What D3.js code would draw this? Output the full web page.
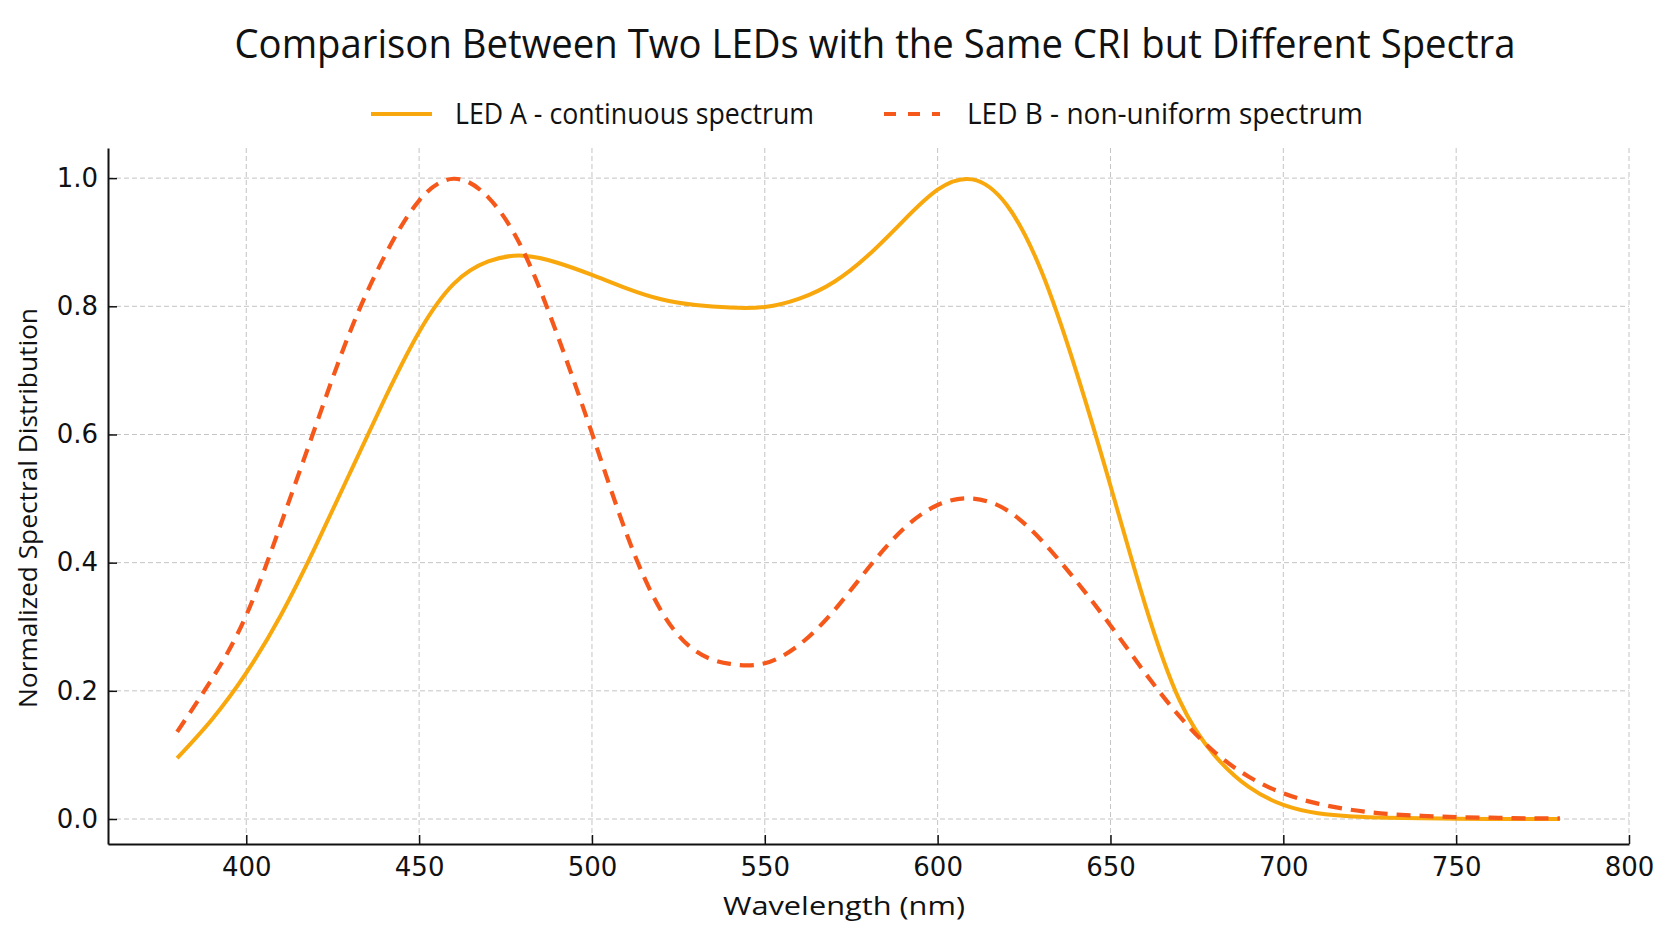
<!DOCTYPE html>
<html>
<head>
<meta charset="utf-8">
<script src="https://cdn.jsdelivr.net/npm/d3@7"></script>
<style>
  html, body { margin: 0; padding: 0; background: #ffffff; }
  svg { display: block; }
</style>
</head>
<body>
<svg id="chart" width="1672" height="941"></svg>
<script>
// ---- Data ----
const wavelengths = [380,390,400,410,420,430,440,450,460,470,480,490,500,510,520,530,540,550,560,570,580,590,600,610,620,630,640,650,660,670,680,690,700,710,720,730,740,750,760,770,780];
const ledA = [0.095,0.155,0.228,0.318,0.425,0.540,0.655,0.760,0.835,0.870,0.879,0.868,0.849,0.828,0.811,0.802,0.798,0.799,0.812,0.838,0.880,0.933,0.982,0.998,0.958,0.855,0.700,0.520,0.335,0.185,0.100,0.050,0.022,0.009,0.004,0.002,0.001,0.0005,0.0002,0.0001,0.0];
const ledB = [0.136,0.218,0.318,0.460,0.612,0.760,0.878,0.965,0.999,0.970,0.888,0.755,0.602,0.445,0.325,0.262,0.242,0.243,0.272,0.325,0.392,0.452,0.490,0.500,0.482,0.435,0.372,0.302,0.228,0.160,0.105,0.066,0.040,0.024,0.014,0.008,0.005,0.003,0.002,0.001,0.001];
const seriesNames = ["LED A - continuous spectrum", "LED B - non-uniform spectrum"];
const xTicks = [400,450,500,550,600,650,700,750,800];
const yTicks = [0.0,0.2,0.4,0.6,0.8,1.0];
const titleText = "Comparison Between Two LEDs with the Same CRI but Different Spectra";
const xLabel = "Wavelength (nm)";
const yLabel = "Normalized Spectral Distribution";

(function () {
// ---- Layout ----
const colA = "#F8A80C", colB = "#F5581A";
const svg = d3.select("#chart");
const pL = 108, pR = 1629, pT = 148, pB = 844;

const x = d3.scaleLinear().domain([360, 800]).range([pL, pR]);
const y = d3.scaleLinear().domain([-0.039, 1.047]).range([pB, pT]);

svg.append("rect").attr("width", 1672).attr("height", 941).attr("fill", "#ffffff");

// grid
const grid = svg.append("g").attr("stroke", "#c4c4c4").attr("stroke-width", 1).attr("stroke-dasharray", "5,3");
grid.selectAll("line.v").data(xTicks).join("line").attr("class", "v")
  .attr("x1", d => x(d)).attr("x2", d => x(d)).attr("y1", pT).attr("y2", pB);
grid.selectAll("line.h").data(yTicks).join("line").attr("class", "h")
  .attr("x1", pL).attr("x2", pR).attr("y1", d => y(d)).attr("y2", d => y(d));

// axes
const xAxis = d3.axisBottom(x).tickValues(xTicks).tickFormat(d3.format("d"))
  .tickSizeInner(-9).tickSizeOuter(0).tickPadding(14);
const yAxis = d3.axisLeft(y).tickValues(yTicks).tickFormat(d3.format(".1f"))
  .tickSizeInner(-9).tickSizeOuter(0).tickPadding(10);

const gx = svg.append("g").attr("transform", `translate(0,${pB})`).call(xAxis);
const gy = svg.append("g").attr("transform", `translate(${pL},0)`).call(yAxis);
[gx, gy].forEach(g => {
  g.select(".domain").attr("stroke", "#111").attr("stroke-width", 2);
  g.selectAll(".tick line").attr("stroke", "#111").attr("stroke-width", 1.5);
  g.selectAll(".tick text").attr("fill", "#111")
    .style("font-family", "'DejaVu Sans', sans-serif").style("font-size", "26px");
});

// lines
const pts = arr => wavelengths.map((w, i) => [w, arr[i]]);
const line = d3.line().x(d => x(d[0])).y(d => y(d[1])).curve(d3.curveNatural);

svg.append("path").datum(pts(ledA)).attr("d", line)
  .attr("fill", "none").attr("stroke", colA).attr("stroke-width", 4)
  .attr("stroke-linejoin", "round");
svg.append("path").datum(pts(ledB)).attr("d", line)
  .attr("fill", "none").attr("stroke", colB).attr("stroke-width", 4.2)
  .attr("stroke-dasharray", "14,9");

// title
svg.append("text").attr("x", 875).attr("y", 58).attr("text-anchor", "middle")
  .attr("textLength", 1281).attr("lengthAdjust", "spacingAndGlyphs")
  .style("font-family", "'Open Sans', 'Noto Sans', sans-serif").style("font-size", "40px")
  .attr("fill", "#111").text(titleText);

// legend
const leg = svg.append("g");
leg.append("line").attr("x1", 371).attr("x2", 432).attr("y1", 114).attr("y2", 114)
  .attr("stroke", colA).attr("stroke-width", 4);
leg.append("text").attr("x", 455).attr("y", 124)
  .attr("textLength", 359).attr("lengthAdjust", "spacingAndGlyphs")
  .style("font-family", "'Open Sans', 'Noto Sans', sans-serif").style("font-size", "30px")
  .attr("fill", "#111").text(seriesNames[0]);
leg.append("line").attr("x1", 884).attr("x2", 940).attr("y1", 114).attr("y2", 114)
  .attr("stroke", colB).attr("stroke-width", 4).attr("stroke-dasharray", "12,12");
leg.append("text").attr("x", 967).attr("y", 124)
  .attr("textLength", 396).attr("lengthAdjust", "spacingAndGlyphs")
  .style("font-family", "'Open Sans', 'Noto Sans', sans-serif").style("font-size", "30px")
  .attr("fill", "#111").text(seriesNames[1]);

// axis labels
svg.append("text").attr("x", 844).attr("y", 915).attr("text-anchor", "middle")
  .attr("textLength", 242).attr("lengthAdjust", "spacingAndGlyphs")
  .style("font-family", "'Open Sans', 'Noto Sans', sans-serif").style("font-size", "26px")
  .attr("fill", "#111").text(xLabel);
svg.append("text").attr("transform", "translate(37,508) rotate(-90)").attr("text-anchor", "middle")
  .attr("textLength", 400).attr("lengthAdjust", "spacingAndGlyphs")
  .style("font-family", "'Open Sans', 'Noto Sans', sans-serif").style("font-size", "26px")
  .attr("fill", "#111").text(yLabel);
})();
</script>
</body>
</html>
